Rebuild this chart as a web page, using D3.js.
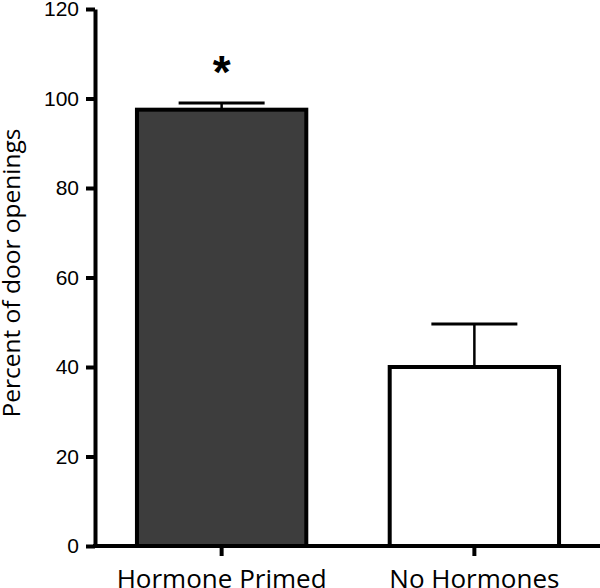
<!DOCTYPE html>
<meta charset="utf-8">
<head>
<style>
body { margin: 0; background: #fff; }
.tick text { font-family: "Liberation Sans", Arial, sans-serif; font-size: 21px; fill: #000; }
.lbl { font-family: "Open Sans", sans-serif; fill: #000; }
</style>
<script src="https://d3js.org/d3.v7.min.js"></script>
</head>
<body>
<svg id="plot" width="600" height="588"></svg>
<script>

var groups = ["Hormone Primed", "No Hormones"];
var means = [97.5, 40];
var sems = [1.5, 9.6];
var fills = ["#3d3d3d", "#ffffff"];
var yTicks = [0, 20, 40, 60, 80, 100, 120];

var svg = d3.select("#plot");

var x = d3.scaleBand()
    .domain(groups)
    .range([95, 601])
    .paddingInner(0.33)
    .paddingOuter(0.166);

var y = d3.scaleLinear()
    .domain([0, 120])
    .range([546, 9]);

// bars
svg.selectAll(".bar").data(groups)
  .enter().append("rect")
    .attr("class", "bar")
    .attr("x", function(d){ return x(d); })
    .attr("width", x.bandwidth())
    .attr("y", function(d, i){ return y(means[i]); })
    .attr("height", function(d, i){ return y(0) - y(means[i]); })
    .attr("fill", function(d, i){ return fills[i]; })
    .attr("stroke", "#000")
    .attr("stroke-width", 4);

// error bars (upper only)
var capHalf = 43;
groups.forEach(function(d, i){
  var cx = x(d) + x.bandwidth()/2;
  svg.append("line")
    .attr("x1", cx).attr("x2", cx)
    .attr("y1", y(means[i])).attr("y2", y(means[i] + sems[i]))
    .attr("stroke", "#000").attr("stroke-width", 2.5);
  svg.append("line")
    .attr("x1", cx - capHalf).attr("x2", cx + capHalf)
    .attr("y1", y(means[i] + sems[i])).attr("y2", y(means[i] + sems[i]))
    .attr("stroke", "#000").attr("stroke-width", 3);
});

// asterisk
svg.append("text")
    .attr("x", x(groups[0]) + x.bandwidth()/2)
    .attr("y", 88)
    .attr("text-anchor", "middle")
    .style("font-family", "Liberation Sans, Arial, sans-serif")
    .style("font-weight", "bold")
    .style("font-size", "46px")
    .text("*");

// y axis
var yAxis = svg.append("g")
    .attr("transform", "translate(95,0)")
    .call(d3.axisLeft(y).tickValues(yTicks).tickSize(9).tickPadding(7).tickSizeOuter(0));
yAxis.select(".domain").attr("stroke-width", 4);
yAxis.selectAll(".tick line").attr("stroke-width", 4);

// x axis
var xAxis = svg.append("g")
    .attr("transform", "translate(0,546)")
    .call(d3.axisBottom(x).tickSize(10).tickSizeOuter(0).tickFormat(""));
xAxis.select(".domain").attr("stroke-width", 4).attr("d", "M93,0H600");
xAxis.selectAll(".tick line").attr("stroke-width", 4);

// category labels
svg.selectAll(".xlbl").data(groups)
  .enter().append("text")
    .attr("class", "lbl")
    .attr("x", function(d){ return x(d) + x.bandwidth()/2; })
    .attr("y", 588)
    .attr("text-anchor", "middle")
    .style("font-size", "26px")
    .text(function(d){ return d; });

// y title
svg.append("text")
    .attr("class", "lbl")
    .attr("transform", "translate(20,273) rotate(-90)")
    .attr("text-anchor", "middle")
    .style("font-size", "24.5px")
    .text("Percent of door openings");

</script>
</body>
